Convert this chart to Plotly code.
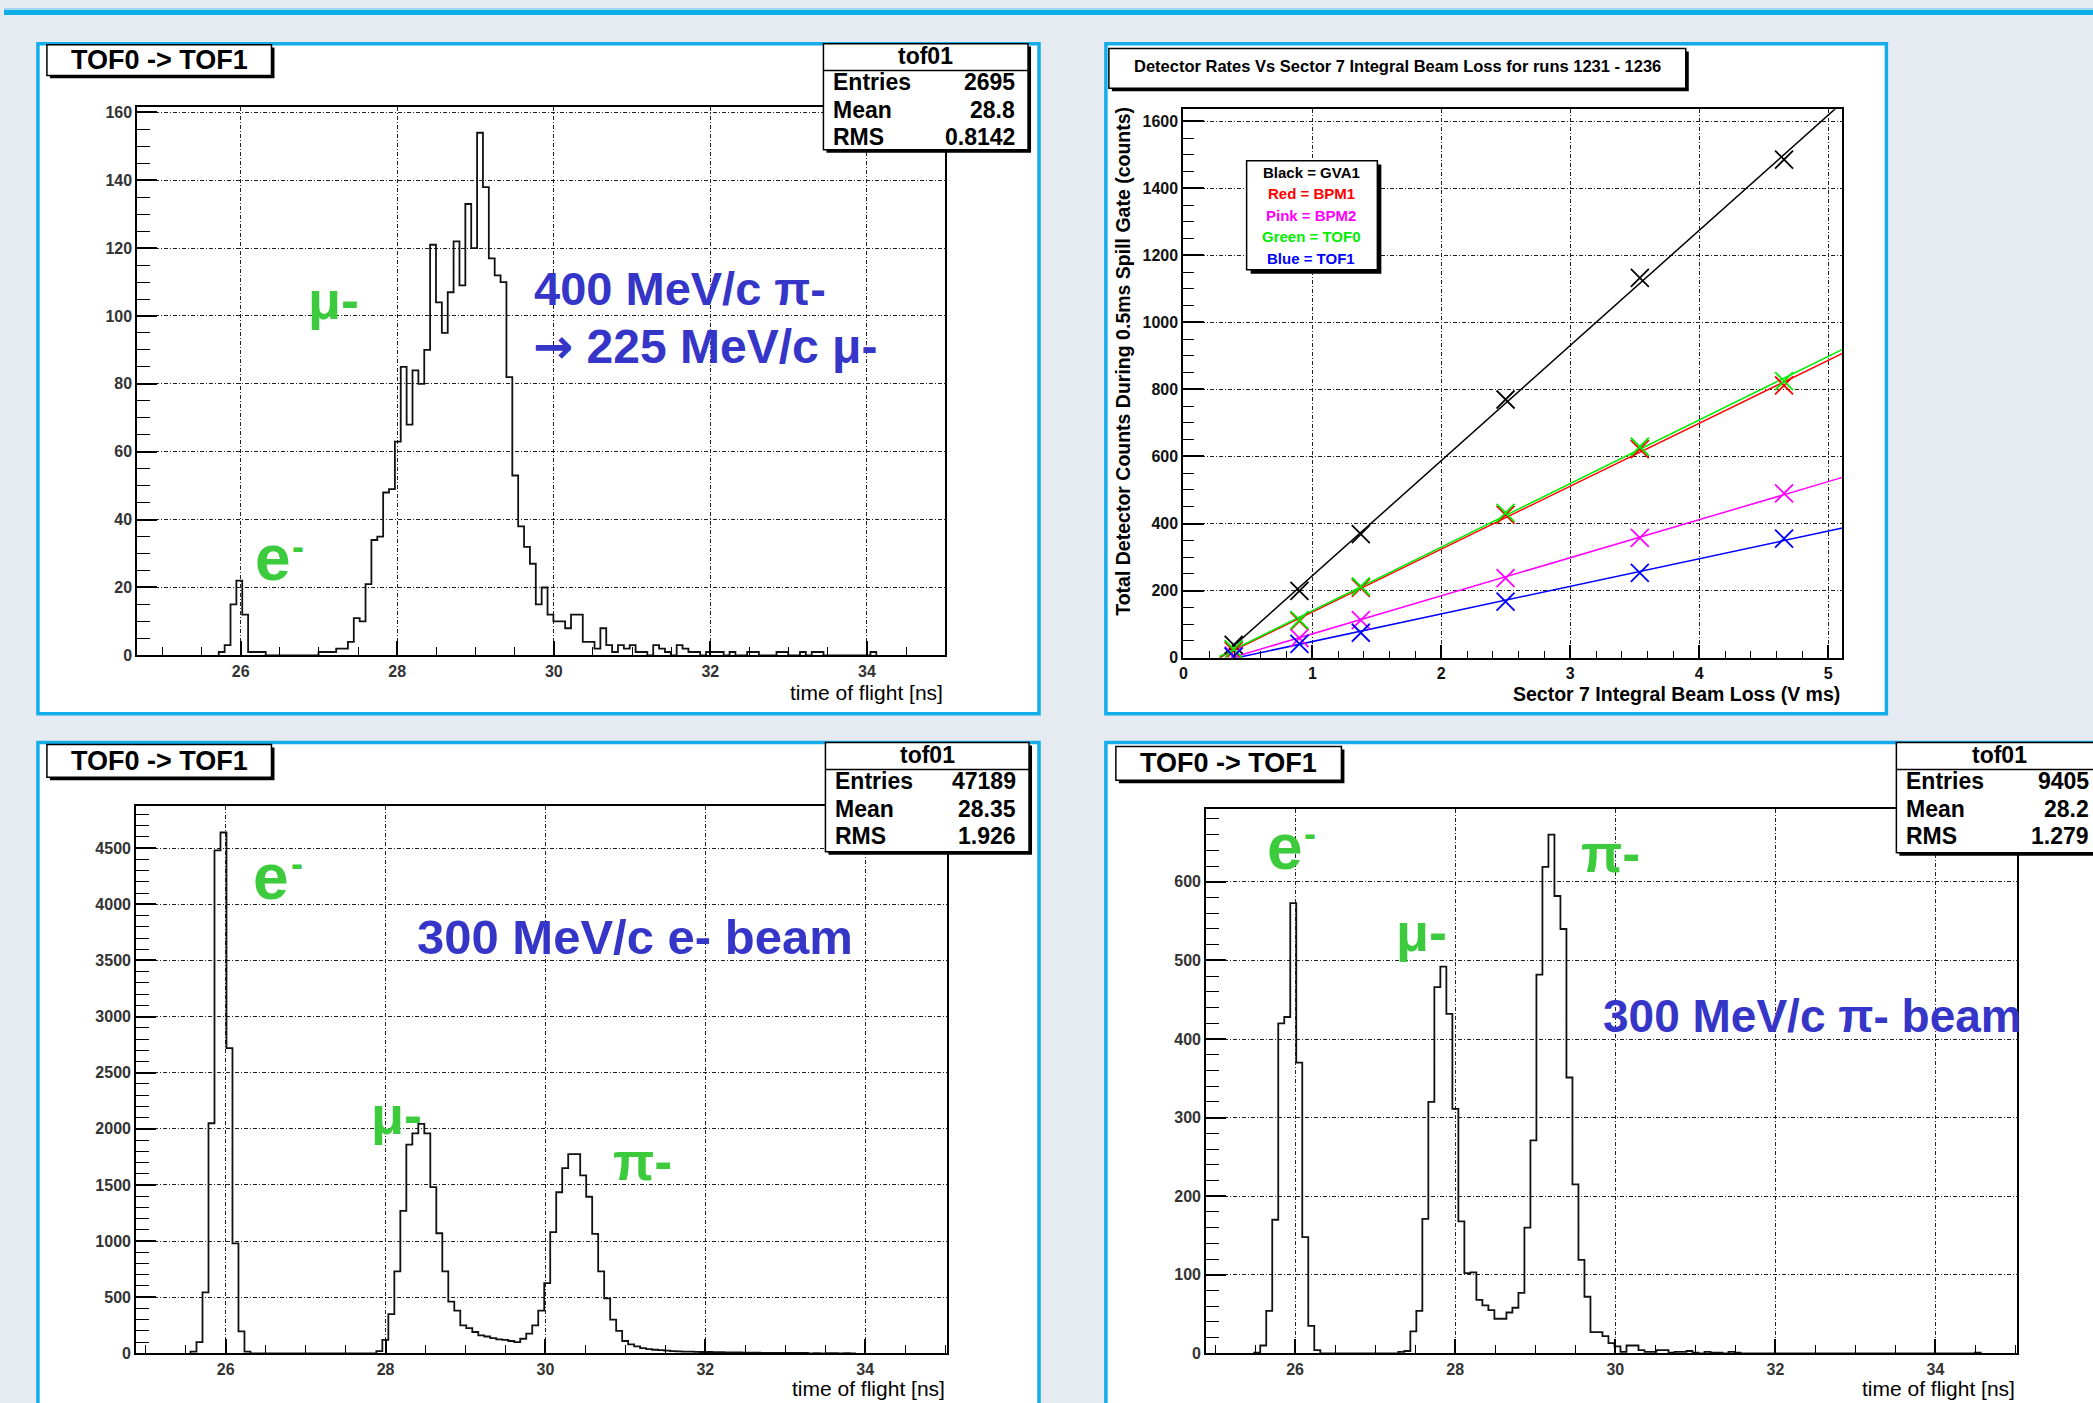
import numpy as np
import plotly.graph_objects as go

W, H = 2093, 1403
FONT = "Liberation Sans, Arial, Helvetica, sans-serif"

# ---------------- DATA ----------------
BIN_WIDTH = 0.075  # ns

# Panel 1: 400 MeV/c pi- -> 225 MeV/c mu-
pi400_start = 25.72
pi400_counts = [1, 3, 15, 22, 12, 1, 1, 1,
                0, 0, 0, 0, 0, 0, 0, 0, 0,
                1, 1, 1, 2, 2, 4, 11, 10,
                21, 34, 35, 48, 49, 63, 85, 68, 84, 80, 90,
                121, 104, 95, 107, 122, 109, 133, 120, 154, 138,
                117, 112, 110, 82, 53, 38, 32, 27, 15, 20, 12,
                10, 10, 8, 12, 12, 4, 4, 2, 8, 3, 1, 3, 2, 3, 1, 1, 0, 3, 2, 1, 0, 3, 2, 1, 1, 0, 1,
                1, 1, 0, 1, 0, 0, 1, 1, 0, 0, 0, 1, 1, 0, 0, 1, 0, 1, 1, 0, 0, 0, 0, 0, 0, 0, 0, 1]
pi400_stats = ["2695", "28.8", "0.8142"]

# Panel 3: 300 MeV/c e- beam
e300_start = 25.56
e300_counts = [15, 100, 543, 2050, 4480, 4640, 2720, 980, 196, 16,
               0, 0, 0, 0, 0, 0, 0, 0, 0, 0, 0, 0, 0, 0, 0, 0, 0, 0, 0, 0, 0,
               20, 120, 350, 730, 1270, 1860, 1960, 2045, 1960, 1480,
               1070, 730, 460, 380, 250, 225, 190, 160, 150, 135,
               125, 120, 110, 100, 130, 175, 250, 380, 625, 1080,
               1435, 1650, 1775, 1775, 1585, 1395, 1065, 730, 490, 300,
               200, 110, 80, 63, 47, 38, 32, 28, 25, 20,
               18, 16, 15, 14, 12, 12, 10, 10, 9, 8,
               8, 7, 6, 6, 5, 5, 4, 4, 4, 3, 3, 3,
               0, 2, 0, 2, 2, 0, 1, 0]
e300_stats = ["47189", "28.35", "1.926"]

# Panel 4: 300 MeV/c pi- beam
pi300_start = 25.49
pi300_counts = [1, 10, 54, 170, 420, 428, 573, 370, 148, 35, 4,
                0, 0, 0, 0, 0, 0, 0, 0, 0, 0, 0, 0, 0,
                2, 3, 28, 54, 171, 320, 466, 492, 432, 311,
                168, 102, 103, 68, 61, 55, 44, 44, 52, 58,
                77, 160, 271, 482, 619, 660, 582, 540, 351, 215,
                119, 72, 27, 27, 22, 13, 9, 2, 10, 10,
                4, 2, 2, 4, 4, 1, 2, 2, 3, 1, 0, 2, 1, 1, 0, 2, 1,
                0, 0, 0, 0, 0, 0, 0, 0, 0, 0, 0, 0, 0, 0, 0, 0, 0, 0, 0, 0,
                0, 0, 0, 0, 0, 0, 0, 0, 0, 0, 0, 0, 0, 0, 0, 0, 0, 0, 0, 1]
pi300_stats = ["9405", "28.2", "1.279"]

stat_labels = ["Entries", "Mean", "RMS"]

# Panel 2: detector rates vs integral beam loss
beam_loss = [0.39, 0.90, 1.376, 2.498, 3.539, 4.657]
gva1 = [38, 199, 368, 770, 1133, 1486]
bpm1 = [20, 109, 208, 426, 622, 812]
bpm2 = [6, 58, 112, 237, 357, 490]
tof0 = [25, 112, 212, 432, 629, 825]
tof1 = [3, 41, 74, 167, 253, 355]
series_names = ["GVA1", "BPM1", "BPM2", "TOF0", "TOF1"]
series_colors = ["#000000", "#ff0000", "#ff00ff", "#00ee00", "#0000ff"]
legend_lines = ["Black = GVA1", "Red = BPM1", "Pink = BPM2", "Green = TOF0", "Blue = TOF1"]

# ---------------- HELPERS ----------------
def X(px):
    return px / W

def Y(py):
    return 1 - py / H

shapes = []
annotations = []

def rect(x0, y0, x1, y1, fill=None, line=None, lw=0, layer="above"):
    shapes.append(dict(type="rect", xref="paper", yref="paper",
                       x0=X(x0), x1=X(x1), y0=Y(y1), y1=Y(y0),
                       fillcolor=fill if fill else "rgba(0,0,0,0)",
                       line=dict(color=line if line else "rgba(0,0,0,0)", width=lw),
                       layer=layer))

def hline(x0, x1, y, color="black", lw=1.5):
    shapes.append(dict(type="line", xref="paper", yref="paper",
                       x0=X(x0), x1=X(x1), y0=Y(y), y1=Y(y),
                       line=dict(color=color, width=lw), layer="above"))

def txt(x, y, s, size, color="black", bold=False, xanchor="center", angle=0):
    annotations.append(dict(x=X(x), y=Y(y), xref="paper", yref="paper",
                            text=(f"<b>{s}</b>" if bold else s), showarrow=False,
                            xanchor=xanchor, yanchor="middle", textangle=angle,
                            font=dict(family=FONT, size=size, color=color)))

def shadow_box(x0, y0, x1, y1, off=3):
    rect(x0 + off, y0 + off, x1 + off, y1 + off, fill="black")
    rect(x0, y0, x1, y1, fill="white", line="black", lw=1.5)

BLUE_BORDER = "#14ade9"

# slide decorations
rect(0, 5, W, 7, fill="#9fd8f2", layer="below")
rect(0, 7, W, 12, fill="#0eaeea", layer="below")

# panels
for (x0, y0, x1, y1) in [(34, 41, 1037, 717), (1104, 41, 1886, 717),
                          (34, 746, 1037, 1420), (1104, 746, 2110, 1420)]:
    rect(x0, y0, x1, y1, fill="white", line=BLUE_BORDER, lw=3.5, layer="below")

# ---------------- FIGURE ----------------
fig = go.Figure()

def step_trace(start, counts, xa, ya):
    edges = start + BIN_WIDTH * np.arange(len(counts) + 1)
    xs = np.concatenate([[edges[0]], edges[:-1], [edges[-1]]])
    ys = np.concatenate([[0], np.array(counts, dtype=float), [0]])
    return go.Scatter(x=xs, y=ys, mode="lines", line=dict(color="#111111", width=1.8, shape="hv"),
                      xaxis=xa, yaxis=ya, showlegend=False, hoverinfo="skip")

fig.add_trace(step_trace(pi400_start, pi400_counts, "x", "y"))
fig.add_trace(step_trace(e300_start, e300_counts, "x3", "y3"))
fig.add_trace(step_trace(pi300_start, pi300_counts, "x4", "y4"))

# panel 2: fits and points
all_series = [gva1, bpm1, bpm2, tof0, tof1]
draw_order = [0, 1, 2, 3, 4]
fit_x = np.array([0.28, 5.11])
for i in draw_order:
    vals = all_series[i]
    slope, icpt = np.polyfit(beam_loss, vals, 1)
    fig.add_trace(go.Scatter(x=fit_x, y=slope * fit_x + icpt, mode="lines",
                             line=dict(color=series_colors[i], width=1.5),
                             xaxis="x2", yaxis="y2", showlegend=False, hoverinfo="skip"))
for i in draw_order:
    fig.add_trace(go.Scatter(x=beam_loss, y=all_series[i], mode="markers",
                             marker=dict(symbol="x-thin-open", size=18, color=series_colors[i],
                                         line=dict(color=series_colors[i], width=1.8)),
                             xaxis="x2", yaxis="y2", showlegend=False, hoverinfo="skip"))

GRID = dict(showgrid=True, gridcolor="#222222", gridwidth=1, griddash="4px,2px,1px,2px")
AX = dict(showline=True, linecolor="black", linewidth=2, mirror=True, zeroline=False,
          ticks="inside", tickcolor="black", tickwidth=1.6)
TICKFONT = dict(family=FONT, size=16, color="#333", weight="bold")

def hist_axes(xdom, ydom, xr, yr, ydt, yminor, ya_anchor, xa_anchor):
    xa = dict(domain=xdom, range=xr, dtick=2, tick0=0, ticklen=14,
              minor=dict(ticks="inside", ticklen=8, tickwidth=1.4, tickcolor="black",
                         dtick=0.5, tick0=0, showgrid=False),
              tickfont=TICKFONT, anchor=ya_anchor, **AX, **GRID)
    ya = dict(domain=ydom, range=yr, dtick=ydt, tick0=0, ticklen=20,
              minor=dict(ticks="inside", ticklen=13, tickwidth=1.4, tickcolor="black",
                         dtick=yminor, tick0=0, showgrid=False),
              tickfont=TICKFONT, anchor=xa_anchor, **AX, **GRID)
    return xa, ya

xa1, ya1 = hist_axes([X(133.6), X(943)], [Y(658), Y(104.5)], [24.68, 35.0], [0, 161.7], 20, 5, "y", "x")
xa3, ya3 = hist_axes([X(132.4), X(944.5)], [Y(1362), Y(810.4)], [24.88, 35.02], [0, 4872], 500, 100, "y3", "x3")
xa4, ya4 = hist_axes([X(1204.5), X(2017)], [Y(1362), Y(812.7)], [24.89, 35.02], [0, 693], 100, 20, "y4", "x4")

xa2 = dict(domain=[X(1181.6), X(1842)], range=[0, 5.11], dtick=1, tick0=0, ticklen=13,
           minor=dict(ticks="inside", ticklen=7, tickwidth=1.4, tickcolor="black", dtick=0.2, tick0=0, showgrid=False),
           tickfont=dict(family=FONT, size=16, color="#111", weight="bold"), anchor="y2", **AX, **GRID)
ya2 = dict(domain=[Y(660.2), Y(107.2)], range=[0, 1636], dtick=200, tick0=0, ticklen=21,
           minor=dict(ticks="inside", ticklen=11, tickwidth=1.4, tickcolor="black", dtick=50, tick0=0, showgrid=False),
           tickfont=dict(family=FONT, size=16, color="#111", weight="bold"), anchor="x2", **AX, **GRID)

# ---------------- BOXES & TEXT ----------------
def tof_panel_labels(box, stats_box, stats, axis_right, axis_title_y):
    bx0, by0, bx1, by1 = box
    shadow_box(bx0, by0, bx1, by1)
    txt((bx0 + bx1) / 2, (by0 + by1) / 2, "TOF0 -> TOF1", 27, bold=True)
    sx0, sy0, sx1, sy1 = stats_box
    shadow_box(sx0, sy0, sx1, sy1)
    hline(sx0, sx1, sy0 + 27)
    txt((sx0 + sx1) / 2, sy0 + 12, "tof01", 23, bold=True)
    for k, (lab, val) in enumerate(zip(stat_labels, stats)):
        yy = sy0 + 39 + 27.5 * k
        txt(sx0 + 8, yy, lab, 23, xanchor="left", bold=True)
        txt(sx1 - 11, yy, val, 23, xanchor="right", bold=True)
    txt(axis_right, axis_title_y, "time of flight [ns]", 21, xanchor="right")

tof_panel_labels((43, 42, 268, 73), (821, 41, 1026, 148), pi400_stats, 943, 695)
tof_panel_labels((43, 748, 268, 781), (823, 746, 1027, 856), e300_stats, 944.5, 1397)
tof_panel_labels((1114, 750, 1340, 784), (1896, 746, 2102, 857), pi300_stats, 2017, 1397)

GREEN = "#3ccb3c"
BLUE_TXT = "#3535c8"
ARROW = "<span style='font-family:DejaVu Sans'>→</span>"

# panel 1 annotations
txt(330, 300, "μ-", 54, color=GREEN, bold=True)
txt(270, 560, "e", 64, color=GREEN, bold=True)
txt(295, 548, "-", 36, color=GREEN, bold=True)
txt(529, 288, "400 MeV/c π-", 47, color=BLUE_TXT, bold=True, xanchor="left")
txt(528, 346, ARROW + " 225 MeV/c μ-", 48, color=BLUE_TXT, bold=True, xanchor="left")

# panel 3 annotations
txt(268, 882, "e", 64, color=GREEN, bold=True)
txt(294, 868, "-", 36, color=GREEN, bold=True)
txt(412, 942, "300 MeV/c e- beam", 49, color=BLUE_TXT, bold=True, xanchor="left")
txt(393, 1122, "μ-", 54, color=GREEN, bold=True)
txt(640, 1168, "π-", 54, color=GREEN, bold=True)

# panel 4 annotations
txt(1283, 851, "e", 64, color=GREEN, bold=True)
txt(1308, 838, "-", 36, color=GREEN, bold=True)
txt(1420, 937, "μ-", 54, color=GREEN, bold=True)
txt(1610, 857, "π-", 54, color=GREEN, bold=True)
txt(1600, 1022, "300 MeV/c π- beam", 46, color=BLUE_TXT, bold=True, xanchor="left")

# panel 2 title, legend, axis titles
shadow_box(1107, 46, 1685, 86)
txt(1396, 64, "Detector Rates Vs Sector 7 Integral Beam Loss for runs 1231 - 1236", 16.5, bold=True)
shadow_box(1245, 159, 1376, 269, off=4)
for k, (line, col) in enumerate(zip(legend_lines, series_colors)):
    txt(1310, 171 + 21.6 * k, line, 15, color=col, bold=True)
txt(1842, 697, "Sector 7 Integral Beam Loss (V ms)", 19.5, bold=True, xanchor="right")
txt(1121, 361, "Total Detector Counts During 0.5ms Spill Gate (counts)", 19.5, bold=True, angle=-90)

fig.update_layout(
    width=W, height=H, margin=dict(l=0, r=0, t=0, b=0),
    paper_bgcolor="#e6ebf1", plot_bgcolor="white",
    xaxis=xa1, yaxis=ya1, xaxis2=xa2, yaxis2=ya2, xaxis3=xa3, yaxis3=ya3, xaxis4=xa4, yaxis4=ya4,
    shapes=shapes, annotations=annotations, showlegend=False,
)

fig.write_html("out.html")
